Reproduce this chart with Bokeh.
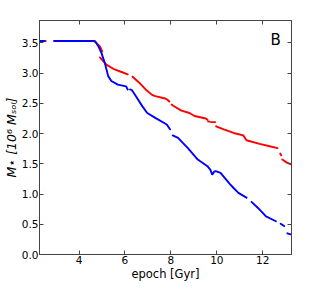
import math
from bokeh.plotting import figure
from bokeh.models import Range1d, FixedTicker, LinearAxis, Label
from bokeh.embed import file_html
from bokeh.resources import INLINE

NAN = float("nan")

# red series (segments separated by NaN = gaps in the sampled points)
red_x = [2.33, 2.55, NAN,
         2.92, 4.70, 4.77, 4.91, 5.01, NAN,
         4.91, 5.19, 5.55, 5.91, 6.12, NAN,
         6.33, 6.60, 6.90, 7.18, 7.32, 7.75, 7.85, 7.93, NAN,
         8.03, 8.10, 8.46, 8.81, 9.03, 9.52, 9.59, NAN,
         9.62, 9.67, NAN,
         9.74, 9.93, NAN,
         9.97, 10.30, 10.73, 11.15, 11.22, 11.29, 11.86, 12.30, 12.64, NAN,
         12.76, 12.80, NAN,
         12.85, 13.05, 13.23]
red_y = [3.53, 3.53, NAN,
         3.53, 3.53, 3.49, 3.44, 3.36, NAN,
         3.26, 3.14, 3.06, 3.01, 2.98, NAN,
         2.94, 2.85, 2.73, 2.64, 2.62, 2.58, 2.56, 2.53, NAN,
         2.48, 2.46, 2.38, 2.34, 2.29, 2.25, 2.23, NAN,
         2.20, 2.20, NAN,
         2.19, 2.19, NAN,
         2.12, 2.07, 2.01, 1.97, 1.93, 1.89, 1.83, 1.79, 1.76, NAN,
         1.67, 1.64, NAN,
         1.57, 1.52, 1.49]

# blue series
blue_x = [2.28, 2.50, NAN,
          2.92, 4.65, 4.75, 4.85, 4.98, 5.12, 5.27, 5.41, 5.69, 6.05, 6.12, NAN,
          6.22, 6.30, 6.47, 6.76, 6.97, 7.32, 7.82, 7.96, NAN,
          8.08, 8.31, 8.74, 9.17, 9.59, 9.72, 9.80, 9.88, 9.95, 10.16, 10.58, 10.73, 10.94, 11.29, NAN,
          11.51, 11.79, 12.14, 12.57, NAN,
          12.78, 12.93, NAN,
          13.07, 13.25]
blue_y = [3.53, 3.53, NAN,
          3.53, 3.53, 3.50, 3.44, 3.33, 3.17, 2.95, 2.87, 2.81, 2.78, 2.73, NAN,
          2.73, 2.72, 2.62, 2.45, 2.34, 2.26, 2.15, 2.07, NAN,
          1.97, 1.93, 1.76, 1.57, 1.46, 1.40, 1.32, 1.37, 1.38, 1.35, 1.16, 1.10, 1.02, 0.94, NAN,
          0.87, 0.77, 0.63, 0.55, NAN,
          0.51, 0.47, NAN,
          0.35, 0.33]

x_ticks = [4, 6, 8, 10, 12]
y_ticks = [0.0, 0.5, 1.0, 1.5, 2.0, 2.5, 3.0, 3.5]
y_tick_labels = ["0.0", "0.5", "1.0", "1.5", "2.0", "2.5", "3.0", "3.5"]
x_label = "epoch [Gyr]"
y_label = "M⋆ [10⁶ Mₛₒₗ]"
panel_label = "B"

FONT = "DejaVu Sans"
AXC = "#444444"

p = figure(width=316, height=283, output_backend="svg", toolbar_location=None,
           x_range=Range1d(2.28, 13.25), y_range=Range1d(0, 3.87),
           min_border_left=34, min_border_right=25, min_border_top=20, min_border_bottom=29)
p.grid.visible = False
p.outline_line_color = AXC
p.background_fill_color = "white"

p.line(red_x, red_y, line_color="#ff0000", line_width=1.9, line_cap="round")
p.line(blue_x, blue_y, line_color="#0000ff", line_width=1.9, line_cap="round")

def style(ax, show_labels):
    ax.major_tick_in = 4
    ax.major_tick_out = 0
    ax.minor_tick_line_color = None
    ax.axis_line_color = AXC
    ax.major_tick_line_color = AXC
    if show_labels:
        ax.major_label_text_font = FONT
        ax.major_label_text_font_size = "10.5px"
        ax.major_label_text_color = "black"
        ax.major_label_standoff = 1
        ax.axis_label_text_font = FONT
        ax.axis_label_text_font_size = "11.5px"
        ax.axis_label_text_font_style = "normal"
        ax.axis_label_text_color = "black"
        ax.axis_label_standoff = 0
        ax.major_label_text_line_height = 0.9
        ax.axis_label_text_line_height = 0.9
    else:
        ax.major_label_text_font_size = "10px"
        ax.major_label_standoff = 0

p.xaxis[0].ticker = FixedTicker(ticks=x_ticks)
p.yaxis[0].ticker = FixedTicker(ticks=y_ticks)
p.yaxis[0].major_label_overrides = {t: l for t, l in zip(y_ticks, y_tick_labels)}
p.xaxis[0].axis_label = x_label
p.yaxis[0].axis_label = y_label
style(p.xaxis[0], True)
style(p.yaxis[0], True)
p.yaxis[0].axis_label_text_font_style = "italic"
p.yaxis[0].axis_label_text_font_size = "12.5px"

top = LinearAxis(ticker=FixedTicker(ticks=x_ticks))
right = LinearAxis(ticker=FixedTicker(ticks=y_ticks))
style(top, False)
style(right, False)
top.major_label_overrides = {t: "" for t in x_ticks}
right.major_label_overrides = {t: "" for t in y_ticks}
p.add_layout(top, "above")
p.add_layout(right, "right")

p.add_layout(Label(x=12.34, y=3.54, text=panel_label, text_font=FONT,
                   text_font_size="15px", text_color="black",
                   text_baseline="alphabetic", text_align="left"))

open("out.html", "w").write(file_html(p, INLINE))
